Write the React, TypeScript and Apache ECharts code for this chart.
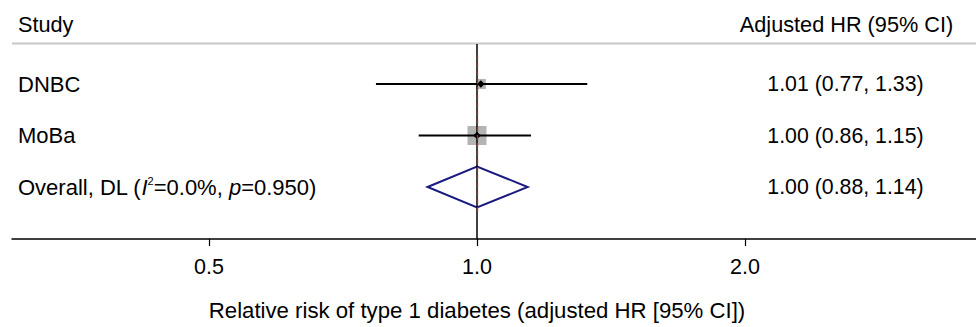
import React, { useEffect, useRef } from "react";
import * as echarts from "echarts";

// ---- data ----
const studies = ["DNBC", "MoBa"];
const hr = [1.01, 1.0];
const lower = [0.77, 0.86];
const upper = [1.33, 1.15];
const weights = [22.0, 78.0];
const ciLabels = ["1.01 (0.77, 1.33)", "1.00 (0.86, 1.15)"];

const overallName = "Overall, DL";
const overallI2 = "0.0%";
const overallP = "0.950";
const overallHr = 1.0;
const overallLower = 0.88;
const overallUpper = 1.14;
const overallCiLabel = "1.00 (0.88, 1.14)";

const tickValues = [0.5, 1.0, 2.0];
const tickLabels = ["0.5", "1.0", "2.0"];

const headerLeft = "Study";
const headerRight = "Adjusted HR (95% CI)";
const xTitle = "Relative risk of type 1 diabetes (adjusted HR [95% CI])";

// ---- layout ----
const W = 976;
const H = 327;
const FONT = "'Liberation Sans', Arial, Helvetica, sans-serif";
const FS_LEFT = 22;
const FS_RIGHT = 21.3;
const FS_HEAD = 21.7;
const FS_TICK = 21.5;
const FS_TITLE = 22.2;
const gridLeft = 12;
const gridTop = 44;
const axisY = 239;
const nullX = 477;
const pxPerUnit = 268; // pixels per log2 unit
const rowStart = 40; // px below grid top
const rowGap = 51.5;
const leftTextX = 18;
const rightTextX = 845.5;
const boxScale = 2.15;

const rowY = (i: number) => rowStart + rowGap * i;
const lg = (v: number) => Math.log2(v);

export default function App() {
  const ref = useRef<HTMLDivElement>(null);

  useEffect(() => {
    if (!ref.current) return;
    const chart = echarts.init(ref.current, undefined, { renderer: "svg" });

    const xMin = (gridLeft - nullX) / pxPerUnit;
    const xMax = (W - nullX) / pxPerUnit;

    const studyData = studies.map((s, i) => [
      lg(lower[i]),
      lg(upper[i]),
      lg(hr[i]),
      rowY(i),
      weights[i],
    ]);
    const overallData = [[lg(overallLower), lg(overallUpper), lg(overallHr), rowY(studies.length)]];

    const ts = (fs: number) => ({ fontFamily: FONT, fontSize: fs, fill: "#000" });

    const graphics: any[] = [
      {
        type: "line",
        shape: { x1: gridLeft, y1: gridTop - 0.5, x2: W, y2: gridTop - 0.5 },
        style: { stroke: "#c8c8c8", lineWidth: 2 },
        z: 1,
      },
      {
        type: "text",
        x: leftTextX,
        y: 24,
        style: { ...ts(FS_HEAD), text: headerLeft, align: "left", verticalAlign: "middle" },
      },
      {
        type: "text",
        x: rightTextX + 1,
        y: 24,
        style: { ...ts(FS_HEAD), text: headerRight, align: "center", verticalAlign: "middle" },
      },
      ...studies.map((s, i) => ({
        type: "text",
        x: leftTextX,
        y: gridTop + rowY(i),
        style: { ...ts(FS_LEFT), text: s, align: "left", verticalAlign: "middle" },
      })),
      ...ciLabels.map((t, i) => ({
        type: "text",
        x: rightTextX,
        y: gridTop + rowY(i),
        style: { ...ts(FS_RIGHT), text: t, align: "center", verticalAlign: "middle" },
      })),
      {
        type: "text",
        x: leftTextX,
        y: gridTop + rowY(studies.length),
        style: {
          text: `{n|${overallName} (}{i|I}{s|2}{n|=${overallI2}, }{i|p}{n|=${overallP})}`,
          align: "left",
          verticalAlign: "middle",
          fontFamily: FONT,
          fontSize: FS_LEFT,
          fill: "#000",
          rich: {
            n: { fontFamily: FONT, fontSize: FS_LEFT, fill: "#000", lineHeight: 24 },
            i: { fontFamily: FONT, fontSize: FS_LEFT, fontStyle: "italic", fill: "#000", lineHeight: 24 },
            s: { fontFamily: FONT, fontSize: 11, fill: "#000", verticalAlign: "top", lineHeight: 24 },
          },
        },
      },
      {
        type: "text",
        x: rightTextX,
        y: gridTop + rowY(studies.length),
        style: { ...ts(FS_RIGHT), text: overallCiLabel, align: "center", verticalAlign: "middle" },
      },
      {
        type: "text",
        x: nullX,
        y: 310,
        style: { ...ts(FS_TITLE), text: xTitle, align: "center", verticalAlign: "middle" },
      },
    ];

    chart.setOption({
      animation: false,
      backgroundColor: "#fff",
      grid: { left: gridLeft, right: 0, top: gridTop, bottom: H - axisY, containLabel: false },
      xAxis: {
        type: "value",
        position: "bottom",
        min: xMin,
        max: xMax,
        axisLine: { show: true, onZero: false, lineStyle: { color: "#000", width: 1.5 } },
        axisTick: {
          show: true,
          customValues: tickValues.map(lg),
          length: 7,
          lineStyle: { color: "#000", width: 1.2 },
        },
        axisLabel: {
          show: true,
          customValues: tickValues.map(lg),
          formatter: (v: number) => {
            const idx = tickValues.findIndex((t) => Math.abs(lg(t) - v) < 1e-6);
            return idx >= 0 ? tickLabels[idx] : "";
          },
          fontFamily: FONT,
          fontSize: FS_TICK,
          color: "#000",
          margin: 17,
        },
        splitLine: { show: false },
      },
      yAxis: {
        type: "value",
        inverse: true,
        min: 0,
        max: axisY - gridTop,
        show: false,
      },
      series: [
        {
          type: "custom",
          name: "weights",
          z: 1,
          data: studyData,
          encode: { x: [0, 1, 2], y: 3 },
          renderItem: (params: any, api: any) => {
            const c = api.coord([api.value(2), api.value(3)]);
            const side = boxScale * Math.sqrt(api.value(4));
            return {
              type: "rect",
              shape: { x: c[0] - side / 2, y: c[1] - side / 2, width: side, height: side },
              style: { fill: "#b4b4b4" },
            };
          },
        },
        {
          type: "custom",
          name: "ci",
          z: 2,
          data: studyData,
          encode: { x: [0, 1, 2], y: 3 },
          renderItem: (params: any, api: any) => {
            const a = api.coord([api.value(0), api.value(3)]);
            const b = api.coord([api.value(1), api.value(3)]);
            return {
              type: "line",
              shape: { x1: a[0], y1: a[1], x2: b[0], y2: b[1] },
              style: { stroke: "#000", lineWidth: 2 },
            };
          },
          markLine: {
            silent: true,
            symbol: "none",
            label: { show: false },
            animation: false,
            data: [
              [
                { coord: [0, 0], lineStyle: { color: "#000", width: 1.5, type: "solid" } },
                { coord: [0, axisY - gridTop] },
              ],
              [
                {
                  coord: [lg(overallHr), 11],
                  lineStyle: { color: "#a0303a", width: 1.3, type: [5, 3] },
                },
                { coord: [lg(overallHr), 169] },
              ],
            ],
          },
        },
        {
          type: "custom",
          name: "overall",
          z: 3,
          data: overallData,
          encode: { x: [0, 1, 2], y: 3 },
          renderItem: (params: any, api: any) => {
            const l = api.coord([api.value(0), api.value(3)]);
            const r = api.coord([api.value(1), api.value(3)]);
            const m = api.coord([api.value(2), api.value(3)]);
            const h = 20.5;
            return {
              type: "polygon",
              shape: {
                points: [
                  [l[0], l[1]],
                  [m[0], m[1] - h],
                  [r[0], r[1]],
                  [m[0], m[1] + h],
                ],
              },
              style: { stroke: "#1a1a80", lineWidth: 2, fill: "rgba(0,0,0,0)" },
            };
          },
        },
        {
          type: "custom",
          name: "points",
          z: 4,
          data: studyData,
          encode: { x: [0, 1, 2], y: 3 },
          renderItem: (params: any, api: any) => {
            const c = api.coord([api.value(2), api.value(3)]);
            const s = 3.8;
            return {
              type: "polygon",
              shape: {
                points: [
                  [c[0], c[1] - s],
                  [c[0] + s, c[1]],
                  [c[0], c[1] + s],
                  [c[0] - s, c[1]],
                ],
              },
              style: { fill: "#000" },
            };
          },
        },
      ],
      graphic: graphics,
    });

    return () => chart.dispose();
  }, []);

  return (
    <div
      ref={ref}
      style={{ position: "fixed", left: 0, top: 0, width: W, height: H, background: "#fff" }}
    />
  );
}
